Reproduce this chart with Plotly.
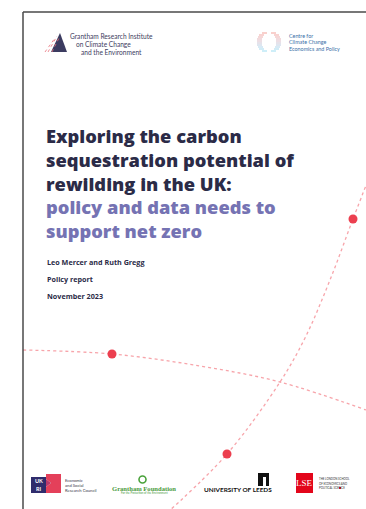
import plotly.graph_objects as go

W, H = 366, 509

# ---- content ----
title_lines = ["Exploring the carbon", "sequestration potential of", "rewilding in the UK:"]
subtitle_lines = ["policy and data needs to", "support net zero"]
meta_lines = ["Leo Mercer and Ruth Gregg", "Policy report", "November 2023"]
gri_lines = ["Grantham Research Institute", "on Climate Change", "and the Environment"]
cccep_lines = ["Centre for", "Climate Change", "Economics and Policy"]
esrc_lines = ["Economic", "and Social", "Research Council"]
lse_lines = ["THE LONDON SCHOOL", "OF ECONOMICS AND", "POLITICAL SCIENCE"]

# decorative dotted arcs (page coordinates)
arc1_x = [23, 112, 200, 280, 366]
arc1_y = [350, 354, 366, 382, 410]
arc2_x = [372, 353, 330, 305, 280, 227, 168]
arc2_y = [170, 219, 280, 338, 382, 454, 512]
dots_x = [112, 353, 227]
dots_y = [354, 219, 454]

DARK = "#2b2b47"
PURPLE = "#7573b3"
ARC = "rgba(240,90,100,0.55)"
DOT = "#ec3f4f"

fig = go.Figure()
fig.add_trace(go.Scatter(x=arc1_x, y=arc1_y, mode="lines", line=dict(color=ARC, width=1.3, dash="dot", shape="spline"), hoverinfo="skip"))
fig.add_trace(go.Scatter(x=arc2_x, y=arc2_y, mode="lines", line=dict(color=ARC, width=1.3, dash="dot", shape="spline"), hoverinfo="skip"))
fig.add_trace(go.Scatter(x=dots_x, y=dots_y, mode="markers", marker=dict(color=DOT, size=9), hoverinfo="skip"))

shapes = []
# page border
shapes.append(dict(type="line", x0=23, x1=23, y0=12, y1=509, line=dict(color="#4a4a4a", width=1.5)))
shapes.append(dict(type="line", x0=23, x1=366, y0=12, y1=12, line=dict(color="#4a4a4a", width=1.5)))

# Grantham RI icon
shapes.append(dict(type="path", path="M 51 52 L 60 33 L 67 52 Z", fillcolor="#3b3b60", line=dict(width=0)))
for (xa, ya, xb, yb) in [(45, 52, 55, 38), (48, 52, 57, 36), (52, 52, 59, 38)]:
    shapes.append(dict(type="line", x0=xa, y0=ya, x1=xb, y1=yb, line=dict(color="#e8707a", width=0.8, dash="dot")))

# CCCEP ring icon
ring = [(33, 262, 276), (35, 259, 279), (37, 258, 280), (39, 257, 281), (41, 257, 281), (43, 257, 281),
        (45, 257, 281), (47, 258, 280), (49, 259, 279), (51, 262, 276)]
ring_cols = ["#f5b0aa", "#f3b6b2", "#efbcbc", "#e8c2c6", "#dfc8d2", "#d4cfdc", "#c8d6e6", "#bcdcee", "#b2e0f2", "#aee2f4"]
for (yy, xl, xr), c in zip(ring, ring_cols):
    shapes.append(dict(type="line", x0=xl, x1=xl + 5, y0=yy, y1=yy, line=dict(color=c, width=1.2)))
    shapes.append(dict(type="line", x0=xr - 5, x1=xr, y0=yy, y1=yy, line=dict(color=c, width=1.2)))

# UKRI / ESRC logo
shapes.append(dict(type="rect", x0=31, x1=46, y0=477, y1=493, fillcolor="#2f2c6c", line=dict(width=0)))
shapes.append(dict(type="path", path="M 46 474 L 61 474 L 61 493 L 46 493 L 46 487 L 51 483 L 46 479 Z", fillcolor="#e4405a", line=dict(width=0)))
shapes.append(dict(type="path", path="M 46 479 L 51 483 L 46 487 Z", fillcolor="#b8386a", line=dict(width=0)))
# Leeds icon
shapes.append(dict(type="rect", x0=258, x1=269, y0=473, y1=486, fillcolor="#111111", line=dict(width=0)))
shapes.append(dict(type="rect", x0=263, x1=266, y0=477, y1=486, fillcolor="#ffffff", line=dict(width=0)))
# LSE box
shapes.append(dict(type="rect", x0=296, x1=313, y0=473, y1=493, fillcolor="#e3061b", line=dict(width=0)))
shapes.append(dict(type="rect", x0=339, x1=341, y0=487, y1=489, fillcolor="#e3061b", line=dict(width=0)))
# Grantham Foundation icon
shapes.append(dict(type="circle", x0=139, x1=146, y0=476, y1=483, line=dict(color="#49a23a", width=1.6)))

ann = []
def txt(x, y, s, size, color, bold=False, family="Lato", anchor="left", weight=None, yanchor="middle"):
    f = dict(family=family, size=size, color=color)
    if weight:
        f["weight"] = weight
    ann.append(dict(x=x, y=y, xref="x", yref="y", text=(f"<b>{s}</b>" if bold else s), showarrow=False,
                    xanchor=anchor, yanchor=yanchor, align="left", font=f))

title_html = "<br>".join(title_lines + [f"<span style='color:{PURPLE}'>{s}</span>" for s in subtitle_lines])
txt(44, 183, title_html, 18.3, DARK, family="Open Sans", weight=800)
for i, s in enumerate(meta_lines):
    txt(45, 262 + i * 17, s, 7.2, DARK, bold=True, family="Open Sans")

for i, (s, x) in enumerate(zip(gri_lines, [68, 74, 79])):
    txt(x, 36 + i * 8, s, 6.6, "#3d3d5e")
for i, s in enumerate(cccep_lines):
    txt(287, 36 + i * 6.3, s, 5.4, "#3a6fa8")

txt(38.5, 481, "<b>UK</b>", 5.5, "#ffffff", anchor="center")
txt(38.5, 488.5, "<b>RI</b>", 5.5, "#ffffff", anchor="center")
for i, s in enumerate(esrc_lines):
    txt(63, 480 + i * 5, s, 4.2, "#3a3a4a")
txt(144, 488, "<b>Grantham Foundation</b>", 6.6, "#4a9a3c", family="Liberation Serif", anchor="center")
txt(144, 493, "For the Protection of the Environment", 2.8, "#4a9a3c", anchor="center")
txt(238, 489, "UNIVERSITY OF LEEDS", 6.4, "#111111", bold=True, anchor="center")
txt(304.5, 483, "LSE", 9, "#ffffff", family="Liberation Serif", anchor="center")
for i, s in enumerate(lse_lines):
    txt(317, 479 + i * 4.6, s, 2.8, "#333333")

fig.update_layout(
    width=W, height=H, margin=dict(l=0, r=0, t=0, b=0),
    paper_bgcolor="white", plot_bgcolor="white", showlegend=False,
    xaxis=dict(range=[0, W], visible=False, fixedrange=True),
    yaxis=dict(range=[H, 0], visible=False, fixedrange=True),
    shapes=shapes, annotations=ann,
)
fig.write_html("out.html", config={"displayModeBar": False},
               post_script="document.body.style.margin='0';document.body.style.padding='0';document.body.style.overflow='hidden';")
